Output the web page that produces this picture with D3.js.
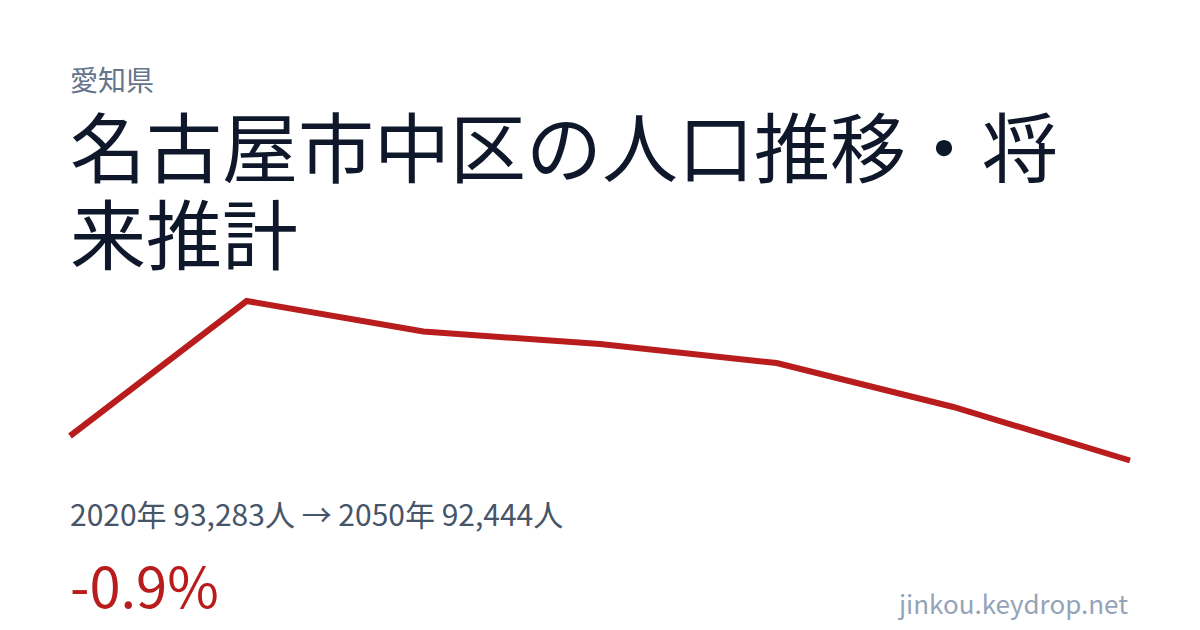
<!DOCTYPE html>
<html lang="ja">
<head>
<meta charset="utf-8">
<script src="https://cdn.jsdelivr.net/npm/d3@7"></script>
<style>
  html, body { margin: 0; padding: 0; background: #ffffff; }
  svg { display: block; font-family: "Noto Sans CJK JP", "Noto Sans", sans-serif; }
</style>
</head>
<body>
<div id="chart"></div>
<script>
// 人口推移（国勢調査 + 将来推計）
var years = [2020, 2025, 2030, 2035, 2040, 2045, 2050];
var population = [93283, 97906, 96861, 96433, 95782, 94276, 92444];

var prefName = '愛知県';
var titleText = '名古屋市中区の人口推移・将来推計';
var siteName = 'jinkou.keydrop.net';

var width = 1200, height = 630;
var padding = {left: 70, right: 70};

var svg = d3.select('#chart')
  .append('svg')
  .attr('width', width)
  .attr('height', height);

svg.append('rect')
  .attr('width', width)
  .attr('height', height)
  .attr('fill', '#ffffff');

// 県名
svg.append('text')
  .attr('x', padding.left)
  .attr('y', 91)
  .attr('font-size', 28)
  .attr('fill', '#64748b')
  .text(prefName);

// タイトル（幅に合わせて折り返し）
var title = svg.append('text')
  .attr('x', padding.left)
  .attr('y', 177)
  .attr('font-size', 76)
  .attr('fill', '#0f172a');

var maxWidth = width - padding.left - padding.right;
var lines = [];
var cur = '';
var probe = title.append('tspan');
for (var i = 0; i < titleText.length; i++) {
  var next = cur + titleText[i];
  probe.text(next);
  if (probe.node().getComputedTextLength() > maxWidth && cur.length > 0) {
    lines.push(cur);
    cur = titleText[i];
  } else {
    cur = next;
  }
}
lines.push(cur);
probe.remove();
lines.forEach(function(l, k) {
  title.append('tspan')
    .attr('x', padding.left)
    .attr('dy', k === 0 ? 0 : 87)
    .text(l);
});

// 折れ線
var data = years.map(function(y, i) { return {x: y, y: population[i]}; });

var xScale = d3.scaleLinear()
  .domain(d3.extent(years))
  .range([padding.left, width - padding.right]);

var yScale = d3.scaleLinear()
  .domain(d3.extent(population))
  .range([460.5, 301]);

var line = d3.line()
  .x(function(d) { return xScale(d.x); })
  .y(function(d) { return yScale(d.y); });

svg.append('path')
  .datum(data)
  .attr('d', line)
  .attr('fill', 'none')
  .attr('stroke', '#b91c1c')
  .attr('stroke-width', 6)
  .attr('stroke-linejoin', 'miter');

// 数値
var first = population[0], last = population[population.length - 1];
var fmt = d3.format(',');
svg.append('text')
  .attr('x', padding.left)
  .attr('y', 526)
  .attr('font-size', 30)
  .attr('fill', '#475569')
  .text(years[0] + '年 ' + fmt(first) + '人 → ' + years[years.length - 1] + '年 ' + fmt(last) + '人');

var change = (last - first) / first * 100;
svg.append('text')
  .attr('x', padding.left)
  .attr('y', 608)
  .attr('font-size', 56)
  .attr('fill', '#b91c1c')
  .text((change >= 0 ? '+' : '') + change.toFixed(1) + '%');

svg.append('text')
  .attr('x', 1128)
  .attr('y', 614)
  .attr('text-anchor', 'end')
  .attr('font-size', 26)
  .attr('fill', '#94a3b8')
  .text(siteName);
</script>
</body>
</html>
